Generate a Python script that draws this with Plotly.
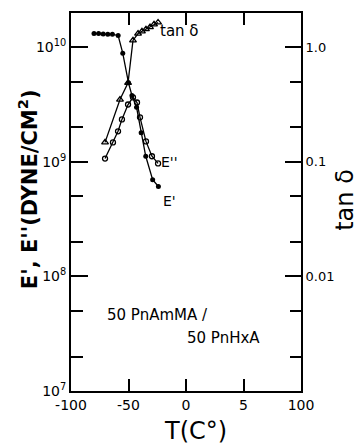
import math
import plotly.graph_objects as go

# ---- data ----
T_storage = [-80, -76, -72, -68, -64, -59, -55, -50, -47, -43, -39, -35, -29, -24]
E_storage = [1.32e10, 1.32e10, 1.31e10, 1.30e10, 1.30e10, 1.27e10, 8.9e9, 4.9e9,
             3.8e9, 3.0e9, 1.8e9, 1.12e9, 7.0e8, 6.1e8]

T_loss = [-70.4, -63.5, -59.1, -55.7, -50.4, -46.1, -42.6, -40, -34.8, -29.6, -24.3]
E_loss = [1.07e9, 1.48e9, 1.85e9, 2.35e9, 3.17e9, 3.66e9, 3.3e9, 2.45e9, 1.51e9, 1.12e9, 9.7e8]

T_tan = [-70.4, -57.4, -50.4, -46.1, -41.7, -38.3, -34.8, -31.3, -27.8, -24.3]
tan_d = [0.148, 0.35, 0.49, 1.15, 1.32, 1.38, 1.44, 1.50, 1.59, 1.65]

x_tickvals = [-100, -50, 0, 50, 100]
x_ticktext = ["-100", "-50", "0", "5", "100"]
yl_tickvals = [1e7, 1e8, 1e9, 1e10]
yl_ticktext = ["10<sup>7</sup>", "10<sup>8</sup>", "10<sup>9</sup>", "10<sup>10</sup>"]
yr_tickvals = [0.01, 0.1, 1.0]
yr_ticktext = ["0.01", "0.1", "1.0"]

FONT = "DejaVu Sans"
BLACK = "black"

fig = go.Figure()
fig.add_trace(go.Scatter(x=T_storage, y=E_storage, mode="lines+markers",
                         line=dict(color=BLACK, width=1.3),
                         marker=dict(symbol="circle", size=5, color=BLACK),
                         showlegend=False))
fig.add_trace(go.Scatter(x=T_loss, y=E_loss, mode="lines+markers",
                         line=dict(color=BLACK, width=1.3),
                         marker=dict(symbol="circle-open", size=5, color=BLACK, line=dict(width=1.3)),
                         showlegend=False))
fig.add_trace(go.Scatter(x=T_tan, y=tan_d, mode="lines+markers", yaxis="y2",
                         line=dict(color=BLACK, width=1.3),
                         marker=dict(symbol="triangle-up-open", size=6, color=BLACK, line=dict(width=1.3)),
                         showlegend=False))

minor_l = [m * 10 ** e for e in range(7, 11) for m in (2, 5)]
minor_r = [m * 10 ** e for e in range(-3, 1) for m in (2, 5)]

fig.update_layout(
    width=361, height=444,
    margin=dict(l=71, r=60, t=13, b=53),
    paper_bgcolor="white", plot_bgcolor="white",
    font=dict(family=FONT, color=BLACK, size=14),
    xaxis=dict(range=[-100, 100], tickvals=x_tickvals, ticktext=x_ticktext,
               ticks="inside", ticklen=12, tickwidth=1.5, tickcolor=BLACK,
               showline=True, linewidth=2, linecolor=BLACK, mirror="ticks",
               showgrid=False, zeroline=False,
               tickfont=dict(size=14)),
    yaxis=dict(type="log", range=[7, 10.3], tickvals=yl_tickvals, ticktext=yl_ticktext,
               ticks="inside", ticklen=17, tickwidth=1.5, tickcolor=BLACK,
               minor=dict(tickvals=minor_l, ticks="inside", ticklen=12, tickwidth=1.5, tickcolor=BLACK,
                          showgrid=False),
               showline=True, linewidth=2, linecolor=BLACK,
               showgrid=False, zeroline=False, tickfont=dict(size=14)),
    yaxis2=dict(type="log", range=[-3, 0.3], overlaying="y", side="right",
                tickvals=yr_tickvals, ticktext=yr_ticktext,
                ticks="inside", ticklen=16, tickwidth=1.5, tickcolor=BLACK,
                minor=dict(tickvals=minor_r, ticks="inside", ticklen=11, tickwidth=1.5, tickcolor=BLACK,
                           showgrid=False),
                showline=True, linewidth=2, linecolor=BLACK,
                showgrid=False, zeroline=False, tickfont=dict(size=13)),
    annotations=[
        # axis titles
        dict(text="T(C°)", x=0.543, y=-0.106, xref="paper", yref="paper",
             xanchor="center", yanchor="middle", showarrow=False, font=dict(size=24)),
        dict(text="<b>E', E''(DYNE/CM<sup>2</sup>)</b>", x=-0.187, y=0.534,
             xref="paper", yref="paper", xanchor="center", yanchor="middle",
             textangle=-90, showarrow=False, font=dict(size=21)),
        dict(text="tan δ", x=1.19, y=0.505, xref="paper", yref="paper",
             xanchor="center", yanchor="middle", textangle=-90, showarrow=False,
             font=dict(size=24)),
        # curve labels
        dict(text="tan δ", x=-24, y=math.log10(1.40), xref="x", yref="y2", xanchor="left",
             yanchor="middle", showarrow=False, font=dict(size=15)),
        dict(text="E''", x=-23.5, y=math.log10(9.9e8), xref="x", yref="y", xanchor="left",
             yanchor="middle", showarrow=False, font=dict(size=14)),
        dict(text="E'", x=-21.5, y=math.log10(4.6e8), xref="x", yref="y", xanchor="left",
             yanchor="middle", showarrow=False, font=dict(size=14)),
        # sample label
        dict(text="50 PnAmMA /", x=0.148, y=0.201, xref="paper", yref="paper",
             xanchor="left", yanchor="middle", showarrow=False, font=dict(size=15)),
        dict(text="50 PnHxA", x=0.496, y=0.140, xref="paper", yref="paper",
             xanchor="left", yanchor="middle", showarrow=False, font=dict(size=15)),
    ],
)

fig.write_html("out.html")
